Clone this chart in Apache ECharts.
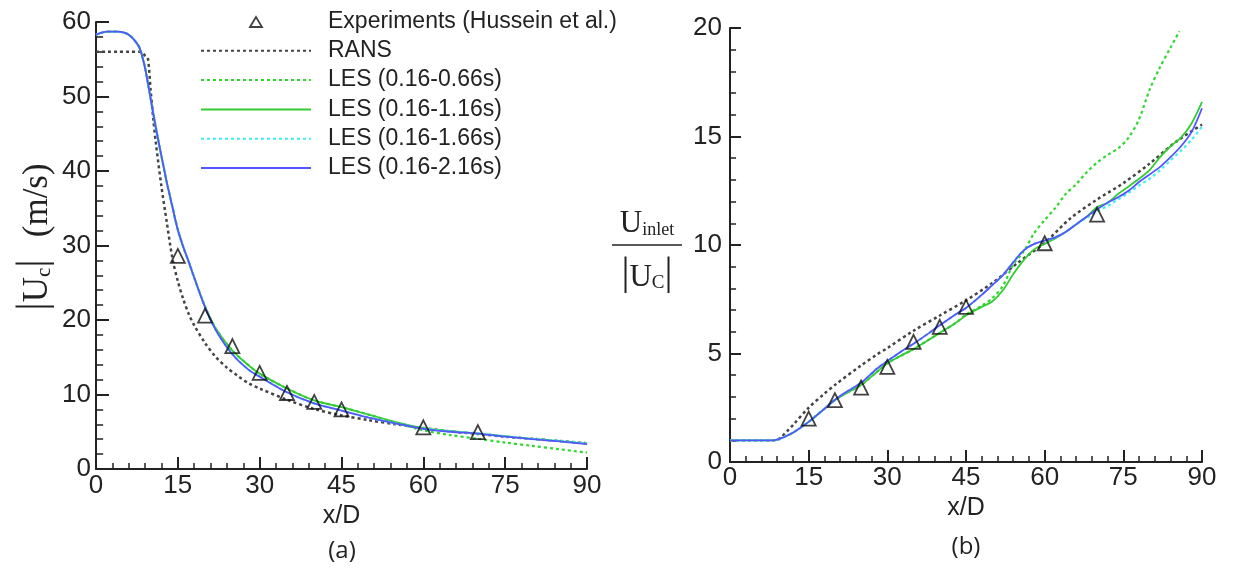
<!DOCTYPE html>
<html>
<head>
<meta charset="utf-8">
<script src="https://cdn.jsdelivr.net/npm/echarts@6/dist/echarts.min.js"></script>
<style>
html,body{margin:0;padding:0;background:#fff;}
#chart{width:1234px;height:569px;}
</style>
</head>
<body>
<div id="chart"></div>
<script>
// ---------- data ----------
const xTicks = [0, 15, 30, 45, 60, 75, 90];

// Experiments (Hussein et al.)
const expX = [15, 20, 25, 30, 35, 40, 45, 60, 70];
const expA = [28.6, 20.6, 16.5, 12.9, 10.2, 9.0, 8.0, 5.6, 4.95];
const expB = [2.0, 2.85, 3.43, 4.38, 5.54, 6.23, 7.15, 10.08, 11.4];

// (a) |Uc| (m/s)
const ransAX = [0, 2, 4, 6, 8, 8.5, 9, 9.5, 10, 10.5, 11, 12, 13, 14, 15, 16, 17, 18, 20, 22, 24, 26, 28, 30, 35, 40, 45, 50, 55, 60, 65, 70, 75, 80, 85, 90];
const ransA  = [56, 56, 56, 56, 56, 55.8, 55.5, 55.2, 51, 47, 43.6, 37.9, 33, 28.3, 25.2, 22.8, 20.8, 19.3, 16.9, 15.0, 13.6, 12.5, 11.5, 10.8, 9.3, 8.05, 7.2, 6.55, 6.0, 5.5, 5.05, 4.7, 4.35, 4.05, 3.75, 3.45];

const lesAX = [0, 2, 4, 5, 6, 7, 8, 9, 10, 11, 12, 13, 14, 15, 16, 17, 18, 20, 22, 25, 28, 30, 35, 40, 45, 50, 55, 60, 65, 70, 75, 80, 85, 90];
const les066A = [58.3, 58.7, 58.7, 58.6, 58.3, 57.6, 56.5, 53.8, 49.8, 45.7, 42.0, 38.4, 35.2, 32.1, 29.8, 27.8, 25.7, 21.8, 18.8, 15.9, 13.9, 12.8, 10.8, 9.2, 8.3, 7.3, 6.2, 5.2, 4.55, 4.05, 3.55, 3.1, 2.65, 2.2];
const les116A = [58.3, 58.7, 58.7, 58.6, 58.3, 57.6, 56.5, 53.8, 49.8, 45.7, 42.0, 38.4, 35.2, 32.1, 29.8, 27.8, 25.7, 21.8, 18.8, 15.9, 13.9, 12.8, 10.8, 9.2, 8.3, 7.3, 6.3, 5.5, 5.1, 4.75, 4.4, 4.05, 3.75, 3.4];
const les166A = [58.3, 58.7, 58.7, 58.6, 58.3, 57.6, 56.5, 53.8, 49.8, 45.7, 42.0, 38.4, 35.2, 32.1, 29.8, 27.8, 25.7, 21.7, 18.6, 15.4, 13.3, 12.4, 10.3, 8.8, 7.85, 6.9, 6.1, 5.45, 5.05, 4.8, 4.4, 4.05, 3.75, 3.45];
const les216A = [58.3, 58.7, 58.7, 58.6, 58.3, 57.6, 56.5, 53.8, 49.8, 45.7, 42.0, 38.4, 35.2, 32.1, 29.8, 27.8, 25.7, 21.7, 18.6, 15.4, 13.3, 12.4, 10.3, 8.8, 7.85, 6.9, 6.1, 5.4, 5.0, 4.75, 4.35, 4.0, 3.7, 3.35];

// (b) Uinlet/|Uc|
const ransBX = [0, 4, 8, 9, 10, 11, 12, 15, 18, 20, 25, 28, 30, 35, 40, 45, 50, 55, 60, 65, 70, 75, 80, 85, 90];
const ransB  = [1.0, 1.0, 1.0, 1.02, 1.2, 1.45, 1.7, 2.5, 3.15, 3.55, 4.45, 4.95, 5.25, 6.05, 6.75, 7.45, 8.25, 9.2, 10.1, 11.25, 12.1, 12.85, 13.75, 14.75, 15.55];

const lesBX = [0, 4, 8, 9, 10, 12, 15, 18, 20, 22, 25, 28, 30, 33, 35, 38, 40, 43, 45, 48, 50, 52, 54, 56, 58, 60, 62, 64, 66, 68, 70, 72, 74, 76, 78, 80, 82, 84, 86, 88, 90];
const les116B = [1.0, 1.0, 1.0, 1.03, 1.12, 1.35, 1.85, 2.45, 2.85, 3.15, 3.55, 4.15, 4.55, 4.95, 5.2, 5.65, 5.95, 6.4, 6.75, 7.15, 7.4, 7.9, 8.65, 9.3, 9.8, 10.05, 10.3, 10.6, 10.95, 11.3, 11.75, 11.95, 12.35, 12.7, 13.05, 13.45, 14.05, 14.55, 14.95, 15.6, 16.6];
const les166B = [1.0, 1.0, 1.0, 1.03, 1.12, 1.35, 1.85, 2.45, 2.87, 3.2, 3.65, 4.3, 4.65, 5.15, 5.45, 5.95, 6.3, 6.8, 7.1, 7.7, 8.15, 8.6, 9.2, 9.75, 10.05, 10.2, 10.35, 10.6, 10.95, 11.25, 11.55, 11.8, 12.1, 12.4, 12.75, 13.05, 13.45, 13.9, 14.35, 14.85, 15.45];
const les216B = [1.0, 1.0, 1.0, 1.03, 1.12, 1.35, 1.85, 2.45, 2.87, 3.2, 3.65, 4.3, 4.65, 5.15, 5.45, 5.95, 6.3, 6.8, 7.1, 7.7, 8.15, 8.6, 9.2, 9.75, 10.05, 10.2, 10.35, 10.6, 10.95, 11.3, 11.65, 11.95, 12.2, 12.5, 12.9, 13.25, 13.6, 14.05, 14.55, 15.2, 16.3];
const les066BX = [0, 4, 8, 9, 10, 12, 15, 18, 20, 22, 25, 28, 30, 33, 35, 38, 40, 43, 45, 48, 50, 52, 54, 56, 58, 60, 62, 64, 66, 68, 70, 72, 74, 76, 78, 80, 82, 84, 85.7];
const les066B = [1.0, 1.0, 1.0, 1.03, 1.12, 1.35, 1.85, 2.45, 2.85, 3.15, 3.55, 4.15, 4.55, 4.95, 5.2, 5.65, 5.95, 6.4, 6.8, 7.2, 7.55, 8.1, 9.1, 9.7, 10.55, 11.15, 11.7, 12.35, 12.8, 13.35, 13.8, 14.15, 14.45, 14.95, 15.8, 17.15, 18.2, 19.1, 19.85];

const names = ['Experiments (Hussein et al.)', 'RANS', 'LES (0.16-0.66s)', 'LES (0.16-1.16s)', 'LES (0.16-1.66s)', 'LES (0.16-2.16s)'];

// ---------- helpers ----------
const pair = (xs, ys) => xs.map((x, i) => [x, ys[i]]);
const SANS = 'Liberation Sans, Arial, sans-serif';
const SERIF = 'Liberation Serif, Times New Roman, serif';
const INK = '#222';

const styles = {
  'RANS': {color: '#444', type: [3, 3], width: 2.5},
  'LES (0.16-0.66s)': {color: '#2fd82f', type: [3, 3], width: 2.2},
  'LES (0.16-1.16s)': {color: '#33cc33', type: 'solid', width: 1.8},
  'LES (0.16-1.66s)': {color: '#3ff0f0', type: [3, 3], width: 2.2},
  'LES (0.16-2.16s)': {color: '#5555ff', type: 'solid', width: 1.8}
};

function lineSeries(name, xs, ys, idx) {
  const s = styles[name];
  return {
    name, type: 'line', xAxisIndex: idx, yAxisIndex: idx,
    data: pair(xs, ys), showSymbol: false, symbol: 'none',
    smooth: 0.3, silent: true,
    itemStyle: {color: s.color},
    lineStyle: {color: s.color, type: s.type, width: s.width, cap: 'butt'},
    emphasis: {disabled: true}
  };
}
function expSeries(ys, idx) {
  return {
    name: names[0], type: 'scatter', xAxisIndex: idx, yAxisIndex: idx,
    data: pair(expX, ys), symbol: 'triangle', symbolSize: 14, z: 5, silent: true,
    itemStyle: {color: 'rgba(255,255,255,0)', borderColor: '#111', borderWidth: 1.8},
    emphasis: {disabled: true}
  };
}
function xAxisCfg(gi, gap, margin) {
  return {
    gridIndex: gi, type: 'value', min: 0, max: 90, interval: 15,
    axisLine: {show: true, onZero: false, lineStyle: {color: INK, width: 2}},
    axisTick: {show: true, inside: true, length: 12, lineStyle: {color: INK, width: 2}},
    minorTick: {show: true, splitNumber: 5, length: 6, lineStyle: {color: INK, width: 1.5}},
    splitLine: {show: false},
    axisLabel: {fontSize: 26, color: INK, margin, fontFamily: SANS,
      formatter: v => xTicks.includes(v) ? String(v) : ''},
    name: 'x/D', nameLocation: 'middle', nameGap: gap,
    nameTextStyle: {fontSize: 25, color: INK, fontFamily: SANS}
  };
}
function yAxisCfg(gi, max, interval, margin, tickLen) {
  return {
    gridIndex: gi, type: 'value', min: 0, max, interval,
    axisLine: {show: true, onZero: false, lineStyle: {color: INK, width: 2}},
    axisTick: {show: true, inside: true, length: tickLen, lineStyle: {color: INK, width: 2}},
    minorTick: {show: true, splitNumber: 5, length: tickLen * 0.55, lineStyle: {color: INK, width: 1.5}},
    splitLine: {show: false},
    axisLabel: {fontSize: 26, color: INK, margin, fontFamily: SANS}
  };
}

// legend icon: small triangle centred in the 110x11 legend swatch
const triIcon = 'path://M0,11L0,11M110,0L110,0M49,11L55,1L61,11Z';
const legendData = names.map((n, i) => i === 0
  ? {name: n, icon: triIcon, itemStyle: {color: 'rgba(255,255,255,0)', borderColor: '#111', borderWidth: 1.8}}
  : {name: n, itemStyle: {opacity: 0}});

const chart = echarts.init(document.getElementById('chart'), null, {renderer: 'canvas'});
chart.setOption({
  backgroundColor: '#fff',
  animation: false,
  grid: [
    {left: 96, right: 647, top: 22, bottom: 100},
    {left: 730, right: 32, top: 28, bottom: 107}
  ],
  xAxis: [xAxisCfg(0, 35, 4), xAxisCfg(1, 33, 3)],
  yAxis: [yAxisCfg(0, 60, 10, 5, 13), yAxisCfg(1, 20, 5, 8, 11)],
  legend: {
    orient: 'vertical', left: 195, top: 5, padding: 5,
    itemWidth: 110, itemHeight: 11, itemGap: 6.3,
    selectedMode: false,
    textStyle: {fontSize: 23, lineHeight: 23, color: INK, fontFamily: SANS, padding: [0, 0, 0, 12]},
    data: legendData
  },
  series: [
    lineSeries('RANS', ransAX, ransA, 0),
    lineSeries('LES (0.16-0.66s)', lesAX, les066A, 0),
    lineSeries('LES (0.16-1.16s)', lesAX, les116A, 0),
    lineSeries('LES (0.16-1.66s)', lesAX, les166A, 0),
    lineSeries('LES (0.16-2.16s)', lesAX, les216A, 0),
    expSeries(expA, 0),
    lineSeries('RANS', ransBX, ransB, 1),
    lineSeries('LES (0.16-0.66s)', les066BX, les066B, 1),
    lineSeries('LES (0.16-1.16s)', lesBX, les116B, 1),
    lineSeries('LES (0.16-1.66s)', lesBX, les166B, 1),
    lineSeries('LES (0.16-2.16s)', lesBX, les216B, 1),
    expSeries(expB, 1)
  ],
  graphic: [
    {
      type: 'text', x: 33, y: 237, rotation: Math.PI / 2, silent: true,
      style: {
        text: '{b||}{u|U}{s|c}{b||}{g| }{u|(m/s)}',
        align: 'center', verticalAlign: 'middle',
        rich: {
          b: {fontSize: 42, fontFamily: SERIF, fill: INK, lineHeight: 44, verticalAlign: 'bottom'},
          u: {fontSize: 35, fontFamily: SERIF, fill: INK, lineHeight: 44, verticalAlign: 'bottom'},
          s: {fontSize: 21, fontFamily: SERIF, fill: INK, lineHeight: 22, verticalAlign: 'bottom'},
          g: {fontSize: 30, fontFamily: SERIF, fill: INK, lineHeight: 44, verticalAlign: 'bottom', width: 22}
        }
      }
    },
    {
      type: 'text', x: 647, y: 221, silent: true,
      style: {
        text: '{u|U}{s|inlet}', align: 'center', verticalAlign: 'middle',
        rich: {
          u: {fontSize: 31, fontFamily: SERIF, fill: INK, lineHeight: 36, verticalAlign: 'bottom'},
          s: {fontSize: 18, fontFamily: SERIF, fill: INK, lineHeight: 18, verticalAlign: 'bottom'}
        }
      }
    },
    {
      type: 'line', silent: true,
      shape: {x1: 612, y1: 245, x2: 682, y2: 245},
      style: {stroke: INK, lineWidth: 1.5}
    },
    {
      type: 'text', x: 647, y: 272, silent: true,
      style: {
        text: '{b||}{u|U}{s|C}{b||}', align: 'center', verticalAlign: 'middle',
        rich: {
          b: {fontSize: 40, fontFamily: SERIF, fill: INK, lineHeight: 42, verticalAlign: 'bottom'},
          u: {fontSize: 31, fontFamily: SERIF, fill: INK, lineHeight: 42, verticalAlign: 'bottom'},
          s: {fontSize: 19, fontFamily: SERIF, fill: INK, lineHeight: 20, verticalAlign: 'bottom'}
        }
      }
    },
    {
      type: 'text', x: 342, y: 551, silent: true,
      style: {text: '(a)', align: 'center', verticalAlign: 'middle', fontSize: 24, fontFamily: 'Open Sans, sans-serif', fill: INK}
    },
    {
      type: 'text', x: 966, y: 547, silent: true,
      style: {text: '(b)', align: 'center', verticalAlign: 'middle', fontSize: 24, fontFamily: 'Open Sans, sans-serif', fill: INK}
    }
  ]
});
</script>
</body>
</html>
